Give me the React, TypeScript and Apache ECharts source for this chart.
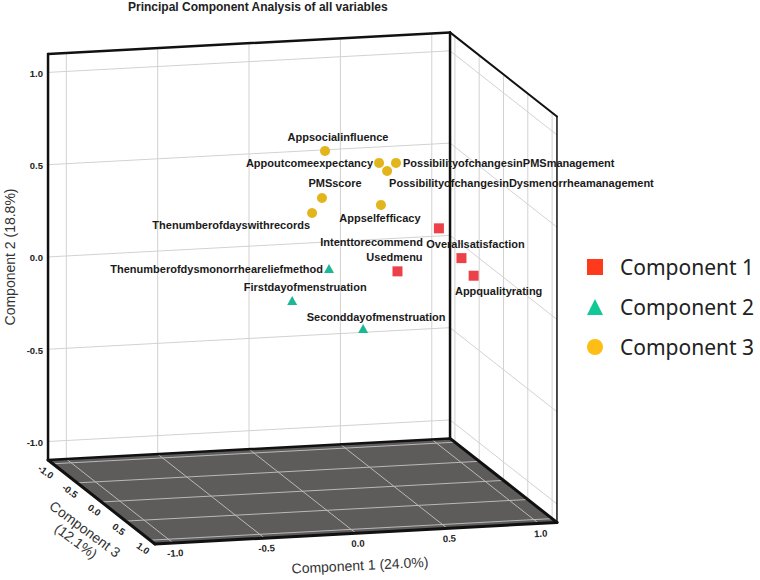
import React, { useEffect, useRef } from "react";
import * as echarts from "echarts";

// ---------- data ----------
const chartTitle = "Principal Component Analysis of all variables";
const axisTitleX = "Component 1 (24.0%)";
const axisTitleY = "Component 2 (18.8%)";
const axisTitleZ = "Component 3\n(12.1%)";
const tickValues = [-1.0, -0.5, 0.0, 0.5, 1.0];
const tickLabels = ["-1.0", "-0.5", "0.0", "0.5", "1.0"];
const legendNames = ["Component 1", "Component 2", "Component 3"];

// variables grouped by the component they belong to; loadings on components 1, 2, 3
const comp1Variables = ["Intenttorecommend", "Overallsatisfaction", "Usedmenu", "Appqualityrating"];
const comp1C1 = [0.68, 0.83, 0.44, 0.91];
const comp1C2 = [0.34, 0.15, 0.13, 0.04];
const comp1C3 = [0.25, 0.15, 0.3, 0.1];

const comp2Variables = ["Thenumberofdysmonorrheareliefmethod", "Firstdayofmenstruation", "Seconddayofmenstruation"];
const comp2C1 = [0.185, 0.01, 0.385];
const comp2C2 = [0.063, -0.122, -0.283];
const comp2C3 = [-0.15, -0.25, -0.2];

const comp3Variables = [
  "Appsocialinfluence",
  "Appoutcomeexpectancy",
  "PossibilityofchangesinPMSmanagement",
  "PossibilityofchangesinDysmenorrheamanagement",
  "PMSscore",
  "Thenumberofdayswithrecords",
  "Appselfefficacy",
];
const comp3C1 = [-0.023, 0.286, 0.392, 0.33, -0.053, -0.054, 0.283];
const comp3C2 = [0.859, 0.767, 0.751, 0.721, 0.616, 0.493, 0.55];
const comp3C3 = [0.55, 0.5, 0.45, 0.5, 0.6, 0.4, 0.55];

// ---------- style / layout config ----------
const AXIS_MIN = -1.1;
const AXIS_MAX = 1.1;
const TILT = 9.8; // px rise of the x direction per unit
const DZX = 48.6; // px per unit of depth (x)
const DZY = 38.2; // px per unit of depth (y)
const FONT = '"Liberation Sans", Arial, sans-serif';
const GRID_COLOR = "#d2d2d2";
const FLOOR_COLOR = "#5e5b5b";
const FLOOR_GRID = "#b9b9b9";
const EDGE = "#111";

// label offset [dx, dy, align]
const labelPlacement: Record<string, [number, number, string]> = {
  Appsocialinfluence: [13, -14, "center"],
  Appoutcomeexpectancy: [-6, 0, "right"],
  PossibilityofchangesinPMSmanagement: [7, 0, "left"],
  PossibilityofchangesinDysmenorrheamanagement: [2, 12, "left"],
  PMSscore: [13, -15, "center"],
  Thenumberofdayswithrecords: [-2, 12, "right"],
  Appselfefficacy: [-1, 13, "center"],
  Intenttorecommend: [-16, 14, "right"],
  Overallsatisfaction: [14, -14, "center"],
  Usedmenu: [-3, -14, "center"],
  Appqualityrating: [25, 15, "center"],
  Thenumberofdysmonorrheareliefmethod: [-6, 0, "right"],
  Firstdayofmenstruation: [13, -14, "center"],
  Seconddayofmenstruation: [13, -12, "center"],
};

function project(api: any, x: number, y: number, z: number): number[] {
  const c = api.coord([x, y]);
  return [c[0] + z * DZX, c[1] - x * TILT + z * DZY];
}

function frameRender(params: any, api: any) {
  const P = (x: number, y: number, z: number) => project(api, x, y, z);
  const lo = AXIS_MIN;
  const hi = AXIS_MAX;
  const children: any[] = [];
  const line = (a: number[], b: number[], stroke: string, lw: number) =>
    children.push({
      type: "line",
      shape: { x1: a[0], y1: a[1], x2: b[0], y2: b[1] },
      style: { stroke, lineWidth: lw, lineCap: "round" },
    });
  const text = (p: number[], str: string, opts: any) =>
    children.push({
      type: "text",
      x: p[0],
      y: p[1],
      rotation: opts.rotation || 0,
      style: {
        text: str,
        align: opts.align || "center",
        verticalAlign: opts.verticalAlign || "middle",
        fontSize: opts.fontSize,
        fontWeight: opts.fontWeight || "normal",
        fontFamily: FONT,
        fill: opts.fill || "#222",
        lineHeight: opts.lineHeight,
      },
    });

  // floor
  children.push({
    type: "polygon",
    shape: { points: [P(lo, lo, lo), P(hi, lo, lo), P(hi, lo, hi), P(lo, lo, hi)] },
    style: { fill: FLOOR_COLOR },
  });
  tickValues.forEach((t) => {
    line(P(lo, t, lo), P(hi, t, lo), GRID_COLOR, 1);
    line(P(t, lo, lo), P(t, hi, lo), GRID_COLOR, 1);
    line(P(hi, t, lo), P(hi, t, hi), GRID_COLOR, 1);
    line(P(hi, lo, t), P(hi, hi, t), GRID_COLOR, 1);
    line(P(lo, lo, t), P(hi, lo, t), FLOOR_GRID, 1);
    line(P(t, lo, lo), P(t, lo, hi), FLOOR_GRID, 1);
  });

  // box edges
  line(P(lo, lo, lo), P(lo, hi, lo), EDGE, 2.5);
  line(P(lo, hi, lo), P(hi, hi, lo), EDGE, 2.5);
  line(P(hi, lo, lo), P(hi, hi, lo), EDGE, 2.5);
  line(P(lo, lo, lo), P(hi, lo, lo), EDGE, 2.5);
  line(P(hi, hi, lo), P(hi, hi, hi), EDGE, 2);
  line(P(hi, hi, hi), P(hi, lo, hi), EDGE, 1.5);
  line(P(lo, lo, lo), P(lo, lo, hi), EDGE, 3);
  line(P(lo, lo, hi), P(hi, lo, hi), EDGE, 3);
  line(P(hi, lo, lo), P(hi, lo, hi), EDGE, 3);

  // tick labels
  tickValues.forEach((t, i) => {
    const py = P(lo, t, lo);
    text([py[0] - 5, py[1] + 1], tickLabels[i], { align: "right", fontSize: 9.5, fontWeight: "bold" });
    const pz = P(lo, lo, t);
    text([pz[0] - 7, pz[1] + 8], tickLabels[i], { fontSize: 9.5, fontWeight: "bold", rotation: -0.62 });
    const px = P(t, lo, hi);
    text([px[0] + 2, px[1] + 10], tickLabels[i], { fontSize: 9.5, fontWeight: "bold", rotation: 0.05 });
  });

  // axis titles
  const yMid = P(lo, 0, lo);
  text([10, yMid[1]], axisTitleY, { fontSize: 14, rotation: Math.PI / 2, fill: "#333" });
  const xMid = P(0, lo, hi);
  text([xMid[0] + 4, xMid[1] + 32], axisTitleX, { fontSize: 14, rotation: 0.049, fill: "#333" });
  const zMid = P(lo, lo, 0);
  text([zMid[0] - 21, zMid[1] + 33], axisTitleZ, {
    fontSize: 14,
    rotation: -0.64,
    fill: "#333",
    lineHeight: 15,
  });

  return { type: "group", children };
}

function makePointRender(names: string[], shape: string, color: string) {
  return (params: any, api: any) => {
    const p = project(api, api.value(0), api.value(1), api.value(2));
    const name = names[params.dataIndex];
    const lp = labelPlacement[name] || [0, -12, "center"];
    let marker: any;
    if (shape === "square") {
      marker = { type: "rect", shape: { x: p[0] - 5, y: p[1] - 5, width: 10, height: 10 }, style: { fill: color } };
    } else if (shape === "triangle") {
      marker = {
        type: "polygon",
        shape: { points: [[p[0], p[1] - 5], [p[0] + 5, p[1] + 4], [p[0] - 5, p[1] + 4]] },
        style: { fill: color },
      };
    } else {
      marker = { type: "circle", shape: { cx: p[0], cy: p[1], r: 5 }, style: { fill: color } };
    }
    return {
      type: "group",
      children: [
        marker,
        {
          type: "text",
          x: p[0] + lp[0],
          y: p[1] + lp[1],
          style: {
            text: name,
            align: lp[2],
            verticalAlign: "middle",
            fontSize: 11,
            fontWeight: "bold",
            fontFamily: FONT,
            fill: "#1a1a1a",
          },
        },
      ],
    };
  };
}

const zip3 = (a: number[], b: number[], c: number[]) => a.map((v, i) => [v, b[i], c[i]]);

export default function App() {
  const ref = useRef<HTMLDivElement>(null);
  useEffect(() => {
    if (!ref.current) return;
    const chart = echarts.init(ref.current, undefined, { renderer: "svg" });
    chart.setOption({
      animation: false,
      backgroundColor: "#fff",
      title: {
        text: chartTitle,
        left: 128,
        top: 1,
        padding: 0,
        textStyle: { fontSize: 12, fontWeight: "bold", fontFamily: FONT, color: "#222" },
      },
      legend: {
        orient: "vertical",
        left: 587,
        top: 255,
        padding: 0,
        itemWidth: 16,
        itemHeight: 16,
        itemGap: 16,
        selectedMode: false,
        textStyle: { fontSize: 21, fontFamily: '"Noto Sans", sans-serif', color: "#222", padding: [0, 0, 0, 12], lineHeight: 24 },
        data: [
          { name: legendNames[0], icon: "rect", itemStyle: { color: "#ff3a1c" } },
          { name: legendNames[1], icon: "triangle", itemStyle: { color: "#12c896" } },
          { name: legendNames[2], icon: "circle", itemStyle: { color: "#ffbe16" } },
        ],
      },
      grid: { left: 101.5, top: 85.2, width: 402, height: 406 },
      xAxis: { type: "value", min: AXIS_MIN, max: AXIS_MAX, show: false },
      yAxis: { type: "value", min: AXIS_MIN, max: AXIS_MAX, show: false },
      series: [
        {
          type: "custom",
          name: "frame",
          silent: true,
          clip: false,
          renderItem: frameRender,
          data: [[0, 0, 0]],
          z: 1,
        },
        {
          type: "custom",
          name: legendNames[0],
          clip: false,
          itemStyle: { color: "#ff3a1c" },
          renderItem: makePointRender(comp1Variables, "square", "#ec4148"),
          data: zip3(comp1C1, comp1C2, comp1C3),
          z: 3,
        },
        {
          type: "custom",
          name: legendNames[1],
          clip: false,
          itemStyle: { color: "#12c896" },
          renderItem: makePointRender(comp2Variables, "triangle", "#1cb895"),
          data: zip3(comp2C1, comp2C2, comp2C3),
          z: 3,
        },
        {
          type: "custom",
          name: legendNames[2],
          clip: false,
          itemStyle: { color: "#ffbe16" },
          renderItem: makePointRender(comp3Variables, "circle", "#e3b51c"),
          data: zip3(comp3C1, comp3C2, comp3C3),
          z: 3,
        },
      ],
    });
    return () => chart.dispose();
  }, []);
  return <div ref={ref} style={{ position: "fixed", left: 0, top: 0, width: 760, height: 580 }} />;
}
